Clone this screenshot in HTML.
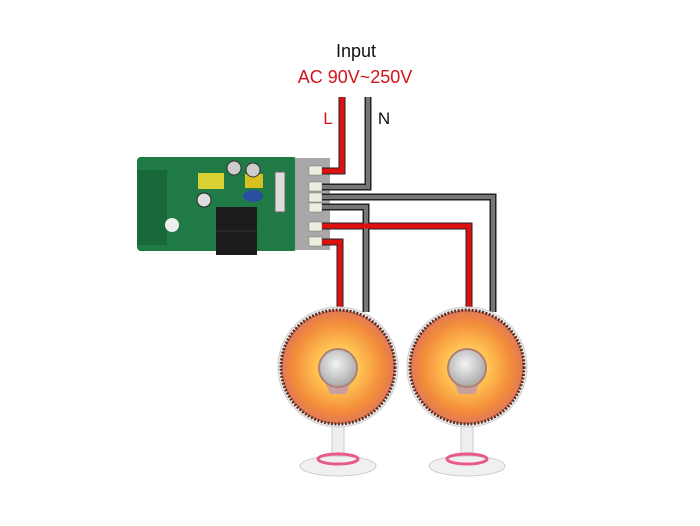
<!DOCTYPE html><html><head><style>body{margin:0;background:#fff}svg{display:block}</style></head><body>
<svg width="700" height="526" viewBox="0 0 700 526" xmlns="http://www.w3.org/2000/svg" font-family="Liberation Sans, sans-serif">
<defs>
<radialGradient id="hg" cx="50%" cy="50%" r="50%"><stop offset="0" stop-color="#fff2a0"/><stop offset="0.4" stop-color="#ffbf50"/><stop offset="0.8" stop-color="#f28a3a"/><stop offset="1" stop-color="#e0785a"/></radialGradient>
<radialGradient id="kn" cx="45%" cy="40%" r="60%"><stop offset="0" stop-color="#f4f4f4"/><stop offset="1" stop-color="#a8a8a8"/></radialGradient>
</defs>
<text x="356" y="57" font-size="18" text-anchor="middle" fill="#111">Input</text>
<text x="355" y="83" font-size="18" text-anchor="middle" fill="#d3141c">AC 90V~250V</text>
<text x="328" y="124" font-size="17" text-anchor="middle" fill="#d3141c">L</text>
<text x="384" y="124" font-size="17" text-anchor="middle" fill="#111">N</text>
<rect x="137" y="157" width="160" height="94" rx="4" fill="#1f7a45"/>
<rect x="137" y="170" width="30" height="75" fill="#19683a"/>
<rect x="198" y="173" width="26" height="16" fill="#d9d232"/>
<rect x="245" y="174" width="18" height="14" fill="#d9c020"/>
<circle cx="234" cy="168" r="7" fill="#ccc" stroke="#333"/><circle cx="253" cy="170" r="7" fill="#ccc" stroke="#333"/>
<circle cx="204" cy="200" r="7" fill="#ddd" stroke="#222"/><circle cx="172" cy="225" r="7" fill="#eee"/>
<ellipse cx="253" cy="196" rx="10" ry="6" fill="#2a4fa0"/>
<rect x="216" y="207" width="41" height="48" fill="#1c1c1c"/>
<line x1="216" y1="231" x2="257" y2="231" stroke="#333"/>
<rect x="275" y="172" width="10" height="40" fill="#ddd" stroke="#666"/>
<rect x="295" y="158" width="35" height="92" fill="#a8a8a8"/>
<g fill="#eeeee0" stroke="#777" stroke-width="0.5">
<rect x="309" y="166" width="13" height="9"/><rect x="309" y="182" width="13" height="9"/><rect x="309" y="193" width="13" height="9"/><rect x="309" y="203" width="13" height="9"/><rect x="309" y="222" width="13" height="9"/><rect x="309" y="237" width="13" height="9"/></g>
<g fill="none" stroke-linejoin="miter">
<g stroke="#222" stroke-width="7">
<path d="M368 97V187H322"/><path d="M322 197H493V312"/><path d="M322 207H366V312"/>
<path d="M342 97V171H322"/><path d="M322 226H469V312"/><path d="M322 242H340V312"/>
</g>
<g stroke="#777" stroke-width="4"><path d="M368 97V187H322"/><path d="M322 197H493V312"/><path d="M322 207H366V312"/></g>
<g stroke="#dd1111" stroke-width="5"><path d="M342 97V171H322"/><path d="M322 226H469V312"/><path d="M322 242H340V312"/></g>
</g>
<g id="h">
<rect x="332" y="420" width="12" height="35" fill="#eee" stroke="#ccc"/>
<ellipse cx="338" cy="466" rx="38" ry="10" fill="#f0f0f0" stroke="#ccc"/>
<ellipse cx="338" cy="459" rx="20" ry="5" fill="none" stroke="#e85a8a" stroke-width="3"/>
<circle cx="338" cy="367" r="60" fill="#eee" stroke="#ccc"/>
<circle cx="338" cy="367" r="57" fill="url(#hg)" stroke="#5a3028" stroke-width="3" stroke-dasharray="2 1.5"/>
<path d="M326 384h24l-4 10h-16z" fill="#c8a0a0"/>
<circle cx="338" cy="368" r="19" fill="url(#kn)" stroke="#b08070" stroke-width="2"/>
</g>
<use href="#h" x="129"/>
</svg>
</body></html>
